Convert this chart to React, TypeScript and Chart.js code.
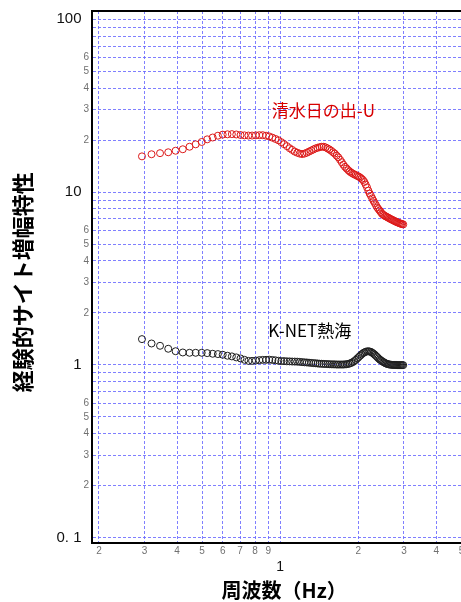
import React, { useEffect, useRef } from "react";
import { Chart, registerables } from "chart.js";

Chart.register(...registerables);

// Frequencies (Hz) of the spectral samples
const FREQ_HZ = [
  0.293, 0.319, 0.344, 0.370, 0.395, 0.421, 0.447, 0.472, 0.498, 0.523,
  0.549, 0.575, 0.600, 0.626, 0.651, 0.677, 0.703, 0.728, 0.754, 0.779,
  0.805, 0.831, 0.856, 0.882, 0.907, 0.933, 0.959, 0.984, 1.010, 1.035,
  1.061, 1.087, 1.112, 1.138, 1.163, 1.189, 1.215, 1.240, 1.266, 1.291,
  1.317, 1.343, 1.368, 1.394, 1.419, 1.445, 1.471, 1.496, 1.522, 1.547,
  1.573, 1.599, 1.624, 1.650, 1.675, 1.701, 1.727, 1.752, 1.778, 1.803,
  1.829, 1.855, 1.880, 1.906, 1.931, 1.957, 1.983, 2.008, 2.034, 2.059,
  2.085, 2.111, 2.136, 2.162, 2.187, 2.213, 2.239, 2.264, 2.290, 2.315,
  2.341, 2.367, 2.392, 2.418, 2.443, 2.469, 2.495, 2.520, 2.546, 2.571,
  2.597, 2.623, 2.648, 2.674, 2.699, 2.725, 2.751, 2.776, 2.802, 2.827,
  2.853, 2.879, 2.904, 2.930, 2.955, 2.981,
];

// 清水日の出-U
const SHIMIZU_AMP = [
  16.1, 16.56, 16.8, 17.0, 17.35, 17.7, 18.3, 18.9, 19.5, 20.2,
  20.7, 21.2, 21.5, 21.6, 21.65, 21.55, 21.4, 21.3, 21.25, 21.25,
  21.3, 21.35, 21.35, 21.2, 21.0, 20.65, 20.3, 19.95, 19.45, 18.95,
  18.45, 17.95, 17.55, 17.15, 16.9, 16.7, 16.6, 16.7, 16.9, 17.15,
  17.4, 17.65, 17.9, 18.05, 18.2, 18.3, 18.3, 18.15, 17.9, 17.65,
  17.35, 17.0, 16.7, 16.25, 15.9, 15.4, 14.9, 14.4, 14.0, 13.7,
  13.4, 13.15, 12.95, 12.8, 12.65, 12.55, 12.4, 12.3, 12.15, 11.95,
  11.75, 11.45, 11.05, 10.65, 10.2, 9.8, 9.5, 9.2, 8.9, 8.65,
  8.4, 8.15, 7.98, 7.82, 7.66, 7.5, 7.4, 7.32, 7.25, 7.2,
  7.14, 7.08, 7.02, 6.97, 6.92, 6.87, 6.82, 6.77, 6.73, 6.69,
  6.65, 6.61, 6.58, 6.55, 6.53, 6.5,
];

// K-NET熱海
const ATAMI_AMP = [
  1.41, 1.33, 1.29, 1.24, 1.2, 1.18, 1.175, 1.175, 1.175, 1.17,
  1.16, 1.155, 1.145, 1.13, 1.12, 1.105, 1.09, 1.07, 1.055, 1.055,
  1.06, 1.066, 1.069, 1.07, 1.072, 1.068, 1.063, 1.057, 1.052, 1.052,
  1.049, 1.048, 1.046, 1.045, 1.044, 1.041, 1.038, 1.035, 1.033, 1.03,
  1.027, 1.024, 1.022, 1.019, 1.016, 1.015, 1.013, 1.012, 1.011, 1.009,
  1.008, 1.007, 1.007, 1.005, 1.005, 1.005, 1.005, 1.005, 1.007, 1.009,
  1.013, 1.019, 1.027, 1.038, 1.052, 1.069, 1.09, 1.11, 1.13, 1.15,
  1.168, 1.181, 1.191, 1.197, 1.199, 1.196, 1.188, 1.177, 1.161, 1.146,
  1.127, 1.11, 1.092, 1.076, 1.063, 1.052, 1.041, 1.031, 1.023, 1.016,
  1.011, 1.007, 1.004, 1.003, 1.001, 1.0, 1.0, 0.999, 0.999, 0.997,
  0.997, 0.997, 0.997, 0.997, 0.997, 0.997,
];

const SERIES_NAMES = ["清水日の出-U", "K-NET熱海"];

const Y_TICKS = [
  0.1, 0.2, 0.3, 0.4, 0.5, 0.6, 0.7, 0.8, 0.9,
  1, 2, 3, 4, 5, 6, 7, 8, 9,
  10, 20, 30, 40, 50, 60, 70, 80, 90, 100,
];
const X_TICKS = [0.2, 0.3, 0.4, 0.5, 0.6, 0.7, 0.8, 0.9, 1, 2, 3, 4, 5];
const Y_MAJOR_LABELS: Record<string, string> = { "0.1": "0. 1", "1": "1", "10": "10", "100": "100" };
const Y_LABELED_DIGITS = [2, 3, 4, 5, 6];
const X_TITLE = "周波数（Hz）";
const Y_TITLE = "経験的サイト増幅特性";

const TICK_FAMILY = '"Liberation Sans", "DejaVu Sans", sans-serif';
const CJK_FAMILY = '"Noto Sans CJK JP", sans-serif';

function isDecade(v: number) {
  const l = Math.log10(v);
  return Math.abs(l - Math.round(l)) < 1e-6;
}
function digit(v: number) {
  const e = Math.floor(Math.log10(v) + 1e-9);
  return Math.round(v / Math.pow(10, e));
}
function decadeKey(v: number) {
  const e = Math.round(Math.log10(v));
  return e < 0 ? String(Math.pow(10, e).toFixed(-e)) : String(Math.pow(10, e));
}

const overlayPlugin = {
  id: "overlay",
  afterDraw(chart: any) {
    const { ctx, chartArea, scales } = chart;
    ctx.save();
    ctx.strokeStyle = "#000";
    ctx.lineWidth = 2;
    ctx.beginPath();
    ctx.moveTo(chartArea.left - 1, chartArea.top);
    ctx.lineTo(chartArea.right, chartArea.top);
    ctx.stroke();

    ctx.font = `17px ${CJK_FAMILY}`;
    ctx.textBaseline = "middle";
    ctx.textAlign = "left";
    ctx.fillStyle = "rgb(215,0,0)";
    ctx.fillText(SERIES_NAMES[0], scales.x.getPixelForValue(0.928), scales.y.getPixelForValue(29.7));
    ctx.fillStyle = "#000";
    ctx.fillText(SERIES_NAMES[1], scales.x.getPixelForValue(0.9), scales.y.getPixelForValue(1.59));
    ctx.restore();
  },
};

const GRID_COLOR = "rgba(105,105,255,0.85)";

export default function App() {
  const ref = useRef<HTMLCanvasElement | null>(null);

  useEffect(() => {
    if (!ref.current) return;
    const chart = new Chart(ref.current, {
      type: "scatter",
      data: {
        datasets: [
          {
            label: SERIES_NAMES[0],
            data: FREQ_HZ.map((f, i) => ({ x: f, y: SHIMIZU_AMP[i] })),
            borderColor: "rgb(220,25,25)",
            backgroundColor: "rgba(0,0,0,0)",
            borderWidth: 1,
            pointRadius: 3.5,
            pointStyle: "circle",
          },
          {
            label: SERIES_NAMES[1],
            data: FREQ_HZ.map((f, i) => ({ x: f, y: ATAMI_AMP[i] })),
            borderColor: "rgb(30,30,30)",
            backgroundColor: "rgba(0,0,0,0)",
            borderWidth: 1,
            pointRadius: 3.5,
            pointStyle: "circle",
          },
        ],
      },
      options: {
        animation: false,
        responsive: false,
        devicePixelRatio: 1,
        layout: { padding: { top: 11, right: 7.8, bottom: 0, left: 0 } },
        plugins: { legend: { display: false }, tooltip: { enabled: false } },
        scales: {
          x: {
            type: "logarithmic",
            position: "bottom",
            min: 0.188,
            max: 5.7,
            afterBuildTicks: (scale: any) => {
              scale.ticks = X_TICKS.map((v) => ({ value: v, major: isDecade(v) }));
            },
            afterFit: (scale: any) => {
              scale.height = 58.7;
              scale.paddingLeft = 0;
              scale.paddingRight = 0;
              scale.paddingTop = 0;
              scale.paddingBottom = 0;
            },
            grid: { color: GRID_COLOR, lineWidth: 1, drawTicks: false },
            border: { display: true, color: "#000", width: 2, dash: [3, 2] },
            ticks: {
              autoSkip: false,
              maxRotation: 0,
              minRotation: 0,
              padding: 2.2,
              callback: (value: any) => {
                const v = Number(value);
                return isDecade(v) ? ["", String(v)] : String(digit(v));
              },
              color: (ctx: any) => (ctx.tick && isDecade(ctx.tick.value) ? "#111" : "#707070"),
              font: (ctx: any) =>
                ctx.tick && isDecade(ctx.tick.value)
                  ? { family: TICK_FAMILY, size: 14, lineHeight: 1.024 }
                  : { family: TICK_FAMILY, size: 10, lineHeight: 1.2 },
            },
            title: {
              display: true,
              text: X_TITLE,
              color: "#000",
              font: { family: CJK_FAMILY, size: 20, weight: "bold", lineHeight: 1.2 },
              padding: { top: 0, bottom: 0 },
            },
          },
          y: {
            type: "logarithmic",
            position: "left",
            min: 0.0928,
            max: 111.7,
            afterBuildTicks: (scale: any) => {
              scale.ticks = Y_TICKS.map((v) => ({ value: v, major: isDecade(v) }));
            },
            afterFit: (scale: any) => {
              scale.width = 92;
              scale.paddingLeft = 0;
              scale.paddingRight = 0;
              scale.paddingTop = 0;
              scale.paddingBottom = 0;
            },
            grid: { color: GRID_COLOR, lineWidth: 1, drawTicks: false },
            border: { display: true, color: "#000", width: 2, dash: [3, 2] },
            ticks: {
              autoSkip: false,
              padding: 3,
              callback: (value: any) => {
                const v = Number(value);
                if (isDecade(v)) return Y_MAJOR_LABELS[decadeKey(v)] + "\u2002";
                const d = digit(v);
                return Y_LABELED_DIGITS.includes(d) ? String(d) : "";
              },
              color: (ctx: any) => (ctx.tick && isDecade(ctx.tick.value) ? "#111" : "#707070"),
              font: (ctx: any) =>
                ctx.tick && isDecade(ctx.tick.value)
                  ? { family: TICK_FAMILY, size: 15, lineHeight: 1.2 }
                  : { family: TICK_FAMILY, size: 10, lineHeight: 1.2 },
            },
            title: {
              display: true,
              text: Y_TITLE + "  ",
              color: "#000",
              font: { family: CJK_FAMILY, size: 22, weight: "bold", lineHeight: 1.2 },
              padding: { top: 9.3, bottom: 0 },
            },
          },
        },
      },
      plugins: [overlayPlugin],
    } as any);
    return () => chart.destroy();
  }, []);

  return (
    <div
      style={{
        position: "absolute",
        left: 0,
        top: 0,
        width: 461,
        height: 602,
        overflow: "hidden",
        background: "#fff",
      }}
    >
      <canvas ref={ref} width={484} height={602} style={{ display: "block", position: "absolute", left: 0, top: 0 }} />
    </div>
  );
}
